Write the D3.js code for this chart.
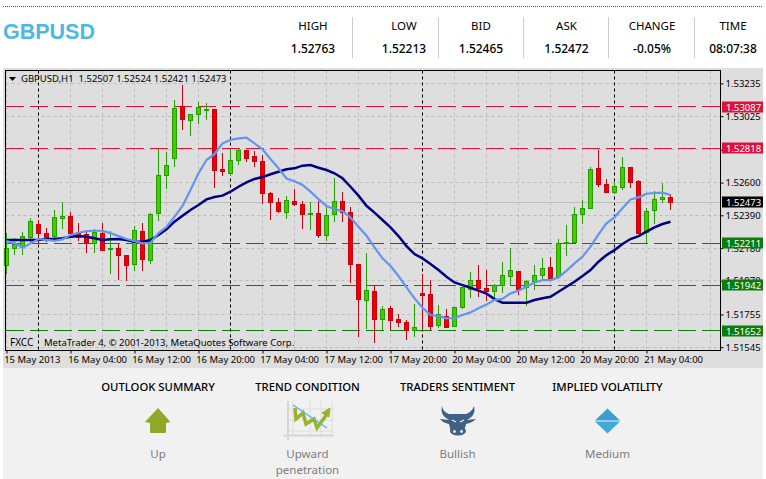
<!doctype html>
<html>
<head>
<meta charset="utf-8">
<script src="https://d3js.org/d3.v7.min.js"></script>
<style>
html,body{margin:0;background:#fff;overflow:hidden}
text{font-family:"Noto Sans",sans-serif}
</style>
</head>
<body>
<script>
var opens = [1.52067,1.52174,1.52185,1.52246,1.52328,1.52276,1.52253,1.52375,1.52385,1.52276,1.52264,1.52212,1.52276,1.52174,1.52178,1.52134,1.52073,1.52287,1.52105,1.52400,1.52644,1.52753,1.53086,1.52996,1.53035,1.53065,1.53069,1.52685,1.52657,1.52746,1.52807,1.52768,1.52736,1.52531,1.52473,1.52407,1.52480,1.52460,1.52394,1.52403,1.52259,1.52394,1.52480,1.52409,1.52076,1.51845,1.51903,1.51721,1.51794,1.51723,1.51704,1.51650,1.51892,1.51884,1.51680,1.51744,1.51676,1.51798,1.51918,1.51973,1.51918,1.51900,1.51941,1.51996,1.52031,1.51926,1.51964,1.52003,1.52057,1.52001,1.52210,1.52214,1.52394,1.52432,1.52691,1.52589,1.52535,1.52573,1.52698,1.52608,1.52281,1.52419,1.52490,1.52507];
var closes = [1.52178,1.52200,1.52257,1.52351,1.52270,1.52251,1.52377,1.52385,1.52276,1.52253,1.52212,1.52283,1.52169,1.52178,1.52131,1.52073,1.52294,1.52110,1.52398,1.52646,1.52706,1.53076,1.53001,1.53037,1.53078,1.53069,1.52676,1.52669,1.52742,1.52807,1.52757,1.52733,1.52528,1.52471,1.52413,1.52486,1.52458,1.52394,1.52403,1.52259,1.52390,1.52480,1.52409,1.52073,1.51849,1.51909,1.51721,1.51787,1.51714,1.51701,1.51653,1.51672,1.51879,1.51682,1.51753,1.51676,1.51800,1.51928,1.51973,1.51919,1.51898,1.51939,1.52005,1.52037,1.51918,1.51967,1.52005,1.52050,1.51988,1.52210,1.52217,1.52396,1.52435,1.52685,1.52586,1.52535,1.52576,1.52698,1.52605,1.52276,1.52416,1.52492,1.52505,1.52473];
var highs = [1.52276,1.52244,1.52283,1.52373,1.52360,1.52310,1.52424,1.52473,1.52409,1.52341,1.52285,1.52302,1.52341,1.52289,1.52206,1.52135,1.52321,1.52341,1.52405,1.52815,1.52794,1.53129,1.53225,1.53039,1.53114,1.53110,1.53071,1.52787,1.52815,1.52815,1.52808,1.52802,1.52776,1.52541,1.52501,1.52512,1.52559,1.52480,1.52475,1.52482,1.52445,1.52627,1.52537,1.52443,1.52078,1.52146,1.51937,1.51809,1.51809,1.51755,1.51719,1.51821,1.52014,1.51973,1.51815,1.51789,1.51802,1.51930,1.52026,1.52071,1.52039,1.51950,1.52091,1.52180,1.52033,1.51975,1.52071,1.52116,1.52125,1.52238,1.52328,1.52441,1.52488,1.52698,1.52808,1.52621,1.52605,1.52762,1.52700,1.52614,1.52435,1.52546,1.52597,1.52524];
var lows = [1.52014,1.52135,1.52135,1.52212,1.52212,1.52221,1.52221,1.52302,1.52253,1.52225,1.52148,1.52148,1.52167,1.52014,1.51975,1.51969,1.52033,1.52033,1.52078,1.52353,1.52560,1.52700,1.52937,1.52898,1.52975,1.53001,1.52567,1.52642,1.52644,1.52714,1.52732,1.52700,1.52462,1.52362,1.52405,1.52366,1.52450,1.52302,1.52296,1.52244,1.52225,1.52347,1.52347,1.51956,1.51612,1.51663,1.51573,1.51653,1.51653,1.51674,1.51589,1.51612,1.51653,1.51653,1.51666,1.51668,1.51674,1.51789,1.51860,1.51866,1.51843,1.51847,1.51892,1.51941,1.51879,1.51809,1.51911,1.51975,1.51975,1.51988,1.52129,1.52210,1.52336,1.52432,1.52573,1.52535,1.52526,1.52552,1.52567,1.52276,1.52210,1.52336,1.52471,1.52421];
var maFast = [1.52225,1.52212,1.52182,1.52210,1.52238,1.52232,1.52227,1.52236,1.52264,1.52278,1.52289,1.52291,1.52291,1.52276,1.52257,1.52238,1.52225,1.52210,1.52214,1.52276,1.52315,1.52381,1.52450,1.52552,1.52659,1.52744,1.52783,1.52851,1.52873,1.52883,1.52887,1.52851,1.52813,1.52751,1.52691,1.52626,1.52608,1.52584,1.52542,1.52494,1.52450,1.52430,1.52416,1.52375,1.52317,1.52259,1.52185,1.52114,1.52065,1.52001,1.51928,1.51858,1.51798,1.51751,1.51746,1.51730,1.51732,1.51751,1.51768,1.51794,1.51819,1.51847,1.51855,1.51890,1.51907,1.51932,1.51960,1.51975,1.51975,1.51992,1.52035,1.52082,1.52125,1.52189,1.52268,1.52339,1.52377,1.52435,1.52492,1.52505,1.52528,1.52533,1.52535,1.52520];
var maSlow = [1.52232,1.52232,1.52232,1.52232,1.52232,1.52238,1.52238,1.52243,1.52253,1.52257,1.52253,1.52243,1.52232,1.52236,1.52238,1.52232,1.52221,1.52221,1.52232,1.52264,1.52300,1.52349,1.52387,1.52424,1.52456,1.52492,1.52507,1.52516,1.52541,1.52573,1.52601,1.52623,1.52635,1.52653,1.52669,1.52685,1.52691,1.52708,1.52712,1.52695,1.52680,1.52659,1.52627,1.52573,1.52516,1.52451,1.52407,1.52360,1.52313,1.52257,1.52193,1.52142,1.52114,1.52078,1.52039,1.51996,1.51960,1.51943,1.51926,1.51907,1.51889,1.51853,1.51830,1.51830,1.51830,1.51830,1.51847,1.51858,1.51868,1.51900,1.51932,1.51964,1.52001,1.52039,1.52093,1.52135,1.52167,1.52206,1.52238,1.52257,1.52285,1.52313,1.52334,1.52349];

var priceTicks = [1.53235,1.53025,1.52810,1.52600,1.52390,1.52180,1.51970,1.51755,1.51545];
var timeTicks = [0,8,16,24,32,40,48,56,64,72,80];
var timeLabels = ["15 May 2013","16 May 04:00","16 May 12:00","16 May 20:00","17 May 04:00","17 May 12:00","17 May 20:00","20 May 04:00","20 May 12:00","20 May 20:00","21 May 04:00"];
var separators = [4,28,52,76];
var redLevels = [1.53087,1.52818];
var greenLevels = [1.52211,1.51942,1.51652];
var lastPrice = 1.52473;

var headNames = ["HIGH","LOW","BID","ASK","CHANGE","TIME"];
var headValues = ["1.52763","1.52213","1.52465","1.52472","-0.05%","08:07:38"];
var panelNames = ["OUTLOOK SUMMARY","TREND CONDITION","TRADERS SENTIMENT","IMPLIED VOLATILITY"];
var panelValues = [["Up"],["Upward","penetration"],["Bullish"],["Medium"]];

var w = 766, h = 479,
    plotL = 5.5, plotR = 720.5, plotT = 70.5, plotB = 350.5;

var svg = d3.select("body").append("svg")
    .attr("width", w)
    .attr("height", h)
    .style("display", "block");

var x = d3.scaleLinear().domain([0, 88]).range([6.5, 710.5]);
var y = d3.scaleLinear().domain([1.53087, 1.51652]).range([106.5, 330.5]);
function px(v){ return Math.floor(v) + 0.5 }

// header
svg.append("line").attr("x1", 3).attr("x2", 763).attr("y1", 6.5).attr("y2", 6.5)
    .attr("stroke", "#555").attr("stroke-dasharray", "1,1");
svg.append("text").text("GBPUSD").attr("x", 3).attr("y", 38.5)
    .style("font-family", "'Liberation Sans'").style("font-weight", "bold")
    .style("font-size", "21.5px").attr("fill", "#4fb8e0");

var headCentres = [313, 404, 481, 566.5, 652, 733];
headNames.forEach(function(n, i){
    svg.append("text").text(n).attr("x", headCentres[i]).attr("y", 30)
        .attr("text-anchor", "middle").style("font-size", "11.5px").attr("fill", "#000");
    svg.append("text").text(headValues[i]).attr("x", headCentres[i]).attr("y", 53)
        .attr("text-anchor", "middle").style("font-size", "12px").style("font-weight", 500).attr("fill", "#000");
});
[352.5, 438.5, 523.5, 608.5, 694.5].forEach(function(sx){
    svg.append("line").attr("x1", sx).attr("x2", sx).attr("y1", 17).attr("y2", 58).attr("stroke", "#ccc");
});

// chart background
svg.append("rect").attr("x", 3).attr("y", 68).attr("width", 760).attr("height", 300).attr("fill", "#dedede");
svg.append("rect").attr("x", 3).attr("y", 368).attr("width", 760).attr("height", 111).attr("fill", "#f1f1f1");

var chart = svg.append("g");

// grid
chart.selectAll(".hgrid").data(priceTicks).enter().append("line")
    .attr("x1", plotL).attr("x2", plotR)
    .attr("y1", function(d){ return px(y(d)) }).attr("y2", function(d){ return px(y(d)) })
    .attr("stroke", "#bdbdbd").attr("stroke-dasharray", "3,3");
chart.selectAll(".vgrid").data(d3.range(0, 89, 4)).enter().append("line")
    .attr("x1", function(d){ return px(x(d)) }).attr("x2", function(d){ return px(x(d)) })
    .attr("y1", plotT).attr("y2", plotB)
    .attr("stroke", "#bdbdbd").attr("stroke-dasharray", "3,3");
chart.selectAll(".sep").data(separators).enter().append("line")
    .attr("x1", function(d){ return px(x(d)) }).attr("x2", function(d){ return px(x(d)) })
    .attr("y1", plotT).attr("y2", plotB)
    .attr("stroke", "#000").attr("stroke-dasharray", "3,3");

// levels
chart.append("line").attr("x1", plotL).attr("x2", plotR)
    .attr("y1", px(y(lastPrice))).attr("y2", px(y(lastPrice))).attr("stroke", "#bdbdbd");
function levels(data, col){
    chart.selectAll(null).data(data).enter().append("line")
        .attr("x1", 6).attr("x2", plotR)
        .attr("y1", function(d){ return px(y(d)) }).attr("y2", function(d){ return px(y(d)) })
        .attr("stroke", col).attr("stroke-dasharray", "18,6");
}
levels(redLevels, "#dc143c");
levels(greenLevels, "#0a7d0a");

// candles
var bars = d3.range(opens.length);
function up(i){ return closes[i] >= opens[i] }
var g = chart.append("g").attr("shape-rendering", "crispEdges");
g.selectAll(".wick").data(bars).enter().append("line")
    .attr("x1", function(i){ return px(x(i)) }).attr("x2", function(i){ return px(x(i)) })
    .attr("y1", function(i){ return Math.round(y(highs[i])) }).attr("y2", function(i){ return Math.round(y(lows[i])) })
    .attr("stroke", function(i){ return up(i) ? "#22a000" : "#c8000f" });
g.selectAll(".body").data(bars).enter().append("rect")
    .attr("x", function(i){ return px(x(i)) - 2 })
    .attr("width", 4)
    .attr("y", function(i){ return px(y(Math.max(opens[i], closes[i]))) })
    .attr("height", function(i){ return Math.max(1, Math.round(Math.abs(y(opens[i]) - y(closes[i])))) })
    .attr("fill", function(i){ return up(i) ? "#4cc800" : "#f00000" })
    .attr("stroke", function(i){ return up(i) ? "#22a000" : "#c8000f" });

// moving averages
var line = d3.line().x(function(d, i){ return x(i) }).y(function(d){ return y(d) });
chart.append("path").attr("d", line(maSlow)).attr("fill", "none").attr("stroke", "#000080").attr("stroke-width", 2.5);
chart.append("path").attr("d", line(maFast)).attr("fill", "none").attr("stroke", "#6495ed").attr("stroke-width", 2.2);

// frame and axes
svg.append("rect").attr("x", plotL).attr("y", plotT).attr("width", plotR - plotL).attr("height", plotB - plotT)
    .attr("fill", "none").attr("stroke", "#000").attr("stroke-width", 1);

var yAxis = d3.axisRight(y).tickValues(priceTicks).tickSize(3)
    .tickFormat(function(d){ return d === 1.52810 ? "" : d3.format(".5f")(d) });
var ya = svg.append("g").attr("transform", "translate(" + plotR + ",0)").call(yAxis);
ya.select(".domain").remove();
ya.selectAll("text").attr("x", 5).style("font-size", "9.5px").style("font-family", "'Noto Sans'").attr("fill", "#000");
ya.selectAll("line").attr("stroke", "#000");

var xAxis = d3.axisBottom(x).tickValues(timeTicks).tickSize(3)
    .tickFormat(function(d){ return timeLabels[timeTicks.indexOf(d)] });
var xa = svg.append("g").attr("transform", "translate(0," + plotB + ")").call(xAxis);
xa.select(".domain").remove();
xa.selectAll("text").attr("y", 6).attr("text-anchor", "start").attr("dx", "-0.3em")
    .style("font-size", "9.5px").style("font-family", "'Noto Sans'").attr("fill", "#000");
xa.selectAll("line").attr("stroke", "#000");

// price badges
function badge(v, col){
    var cy = Math.round(y(v));
    svg.append("rect").attr("x", 722).attr("y", cy - 5.5).attr("width", 41).attr("height", 11).attr("fill", col);
    svg.append("text").text(d3.format(".5f")(v)).attr("x", 726).attr("y", cy + 3.5)
        .style("font-size", "9.5px").attr("fill", "#fff");
}
redLevels.forEach(function(v){ badge(v, "#dc143c") });
greenLevels.forEach(function(v){ badge(v, "#0a7d0a") });
badge(lastPrice, "#000");

// chart captions
svg.append("path").attr("d", "M9,77 L16,77 L12.5,81 Z").attr("fill", "#000");
svg.append("text").text("GBPUSD,H1  1.52507 1.52524 1.52421 1.52473").attr("x", 21).attr("y", 82)
    .attr("xml:space", "preserve").style("font-size", "9.5px").attr("fill", "#000");
svg.append("text").text("FXCC").attr("x", 10).attr("y", 346).style("font-size", "10px").attr("fill", "#000");
svg.append("text").text("MetaTrader 4, © 2001-2013, MetaQuotes Software Corp.").attr("x", 44).attr("y", 346)
    .style("font-size", "9.5px").attr("fill", "#000");

// summary panel
var panelCentres = [158, 307.5, 457.5, 607.5];
panelNames.forEach(function(n, i){
    svg.append("text").text(n).attr("x", panelCentres[i]).attr("y", 391)
        .attr("text-anchor", "middle").style("font-size", "11.3px").style("font-weight", 500).attr("fill", "#000");
    panelValues[i].forEach(function(t, j){
        svg.append("text").text(t).attr("x", panelCentres[i]).attr("y", 458 + j * 16)
            .attr("text-anchor", "middle").style("font-size", "11.5px").attr("fill", "#7d7d7d");
    });
});

// icons
svg.append("path").attr("d", "M158,408 L170.5,422 L166,423 L166,432 Q166,433 165,433 L151,433 Q150,433 150,432 L150,423 L145,422 Z").attr("fill", "#8fa825");
var trend = svg.append("g").attr("fill", "none");
[293, 310, 321, 332].forEach(function(vx){
    trend.append("line").attr("x1", vx).attr("x2", vx).attr("y1", 401).attr("y2", 436).attr("stroke", "#ddd");
});
[409, 420, 431].forEach(function(hy){
    trend.append("line").attr("x1", 288).attr("x2", 334).attr("y1", hy).attr("y2", hy).attr("stroke", "#ddd");
});
trend.append("line").attr("x1", 283).attr("x2", 334).attr("y1", 435.5).attr("y2", 435.5).attr("stroke", "#d5d5d5").attr("stroke-width", 2);
trend.append("line").attr("x1", 288).attr("x2", 288).attr("y1", 401).attr("y2", 440).attr("stroke", "#d5d5d5").attr("stroke-width", 2);
trend.append("path").attr("d", "M295,408 L296,419 L303,413 L306,424 L314,419 L317,428 L327,414").attr("stroke", "#9ab32a").attr("stroke-width", 3.5);
trend.append("path").attr("d", "M322,413 L330,408 L329,417 Z").attr("fill", "#9ab32a").attr("stroke", "#9ab32a");
trend.append("line").attr("x1", 293).attr("x2", 327).attr("y1", 405).attr("y2", 428).attr("stroke", "#5bb8dc").attr("stroke-width", 1.5);

svg.append("path").attr("fill", "#3f6184").attr("d",
    "M442,406 Q443,412 449,414 L466,414 Q472,412 474,406 Q476,414 470,418 L467,420 L476,419 Q472,423 466,424 L464,432 L451,432 L449,424 Q443,423 440,419 L449,420 L446,418 Q440,414 442,406 Z");
svg.append("ellipse").attr("cx", 458).attr("cy", 431).attr("rx", 8).attr("ry", 4.5).attr("fill", "#3f6184");
svg.append("path").attr("d", "M452,420 L456,422 M464,420 L460,422").attr("stroke", "#f1f1f1").attr("stroke-width", 1.2);
svg.append("circle").attr("cx", 454.5).attr("cy", 431.5).attr("r", 1.4).attr("fill", "#f1f1f1");
svg.append("circle").attr("cx", 461.5).attr("cy", 431.5).attr("r", 1.4).attr("fill", "#f1f1f1");

svg.append("path").attr("d", "M607.5,408.5 L620,420.5 L595,420.5 Z").attr("fill", "#3a9fd6");
svg.append("path").attr("d", "M595,421.5 L620,421.5 L607.5,433.5 Z").attr("fill", "#43a8dc");
</script>
</body>
</html>
